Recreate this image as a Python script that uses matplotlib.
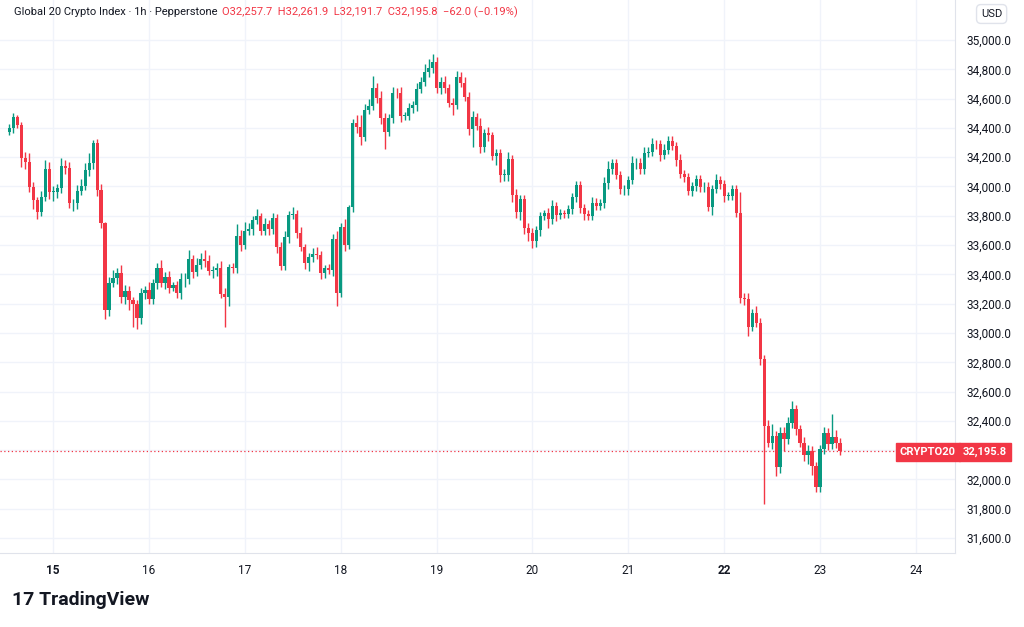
import matplotlib
matplotlib.use("Agg")
import matplotlib.pyplot as plt
import numpy as np

plt.rcParams["font.family"] = "Roboto"

# hourly closes, first candle = 14th 13:00 (hours relative to 15th 00:00 start at -11)
closes = [34397,34477,34420,34192,34169,33999,33908,33828,33930,34119,33964,33964,33987,34142,34124,33885,33885,33971,34003,34112,34158,34295,33976,33749,33157,33343,33373,33412,33248,33289,33225,33198,33100,33270,33290,33230,33339,33441,33343,33385,33305,33327,33270,
          33366,33366,33505,33418,33464,33505,33491,33425,33430,33441,33266,33243,33448,33441,33664,33600,33698,33709,33771,33798,33698,33744,33707,33782,33584,33459,33657,33805,33810,33680,33589,33480,33516,33539,33532,33407,33441,33430,33639,33275,33721,33600,33857,
          34431,34408,34340,34522,34549,34675,34602,34465,34374,34465,34640,34636,34481,34481,34533,34556,34665,34716,34784,34807,34852,34670,34716,34670,34572,34556,34750,34709,34613,34392,34472,34415,34267,34363,34351,34210,34226,34078,34078,34188,33942,33828,33912,33714,33685,33628,33703,
          33799,33821,33776,33867,33805,33817,33812,33844,33926,34010,33851,33812,33799,33890,33867,33885,34026,34117,34158,34079,33981,33981,34044,34158,34163,34117,34231,34238,34290,34288,34215,34249,34313,34277,34181,34085,34063,33972,34000,34051,33994,33999,33862,33983,34044,34015,33935,33935,33981,33821,
          33236,33230,33042,33133,33070,32819,32364,32250,32298,32082,32319,32273,32383,32478,32342,32250,32166,32196,32091,31946,32205,32319,32241,32287,32246,32196]
first_open = 34370
wick_up = [30,25,10,20,40,60,30,20,40,60,50,40,30,50,40,40,30,40,50,50,70,20,30,40,10,40,60,30,50,40,30,20,30,40,30,60,30,40,60,30,40,20,30,
           40,40,60,30,50,40,60,40,30,40,50,40,20,30,80,40,60,40,30,50,20,40,30,40,30,40,40,30,50,30,40,20,30,40,50,30,20,30,40,60,30,60,20,
           30,60,80,40,50,80,30,50,40,30,40,30,40,30,40,30,40,30,50,60,50,30,30,40,30,30,40,30,40,30,40,30,50,30,40,20,30,30,40,50,30,40,30,30,40,30,30,
           30,20,30,40,30,30,20,30,30,30,30,30,30,40,30,30,40,60,30,30,30,30,30,50,30,30,40,30,40,30,30,40,30,30,30,40,30,30,30,30,30,30,30,30,40,30,30,30,30,30,
           140,40,40,30,50,30,30,40,80,30,40,40,40,60,30,30,40,40,30,30,30,40,30,160,50,40]
wick_dn = [20,30,20,60,50,40,60,50,30,30,50,60,40,30,40,30,50,40,30,30,40,40,40,30,60,40,30,40,40,50,70,160,70,40,40,30,30,40,30,40,30,20,30,
           40,50,30,40,30,30,40,30,50,40,30,200,60,30,30,40,30,30,40,30,30,30,40,30,40,30,30,40,30,30,30,40,60,30,30,40,30,30,40,90,30,40,30,
           30,40,60,30,30,30,30,40,120,30,30,30,40,30,30,30,40,30,30,40,30,30,40,30,30,70,30,30,30,40,120,30,40,30,40,30,60,50,40,40,50,40,60,40,60,50,40,
           40,30,60,30,40,30,30,30,30,30,30,40,30,30,30,30,30,40,30,30,30,40,40,30,40,30,30,30,30,30,40,30,30,30,40,30,30,30,40,30,30,30,30,60,30,30,40,30,30,30,
           30,40,60,30,30,40,530,30,40,60,40,80,30,30,40,30,40,60,60,30,30,30,40,30,30,30]

ytick_vals = [31600,31800,32000,32200,32400,32600,32800,33000,33200,33400,33600,33800,34000,34200,34400,34600,34800,35000]
day_labels = ["15","16","17","18","19","20","21","22","23","24"]
last_price = 32195.8

GREEN = "#089981"; RED = "#f23645"
n = len(closes)
x = np.arange(n) - 11
opens = [first_open] + closes[:-1]
wu = (wick_up + [30]*n)[:n]
wd = (wick_dn + [30]*n)[:n]
highs = [max(o, c) + u for o, c, u in zip(opens, closes, wu)]
lows = [min(o, c) - d for o, c, d in zip(opens, closes, wd)]
cols = [GREEN if c >= o else RED for o, c in zip(opens, closes)]

fig = plt.figure(figsize=(10.24, 6.27), dpi=100)
ax = fig.add_axes([0, 74/627, 955/1024, 553/627])
ax.set_xlim(-13.3, 225.8)
ax.set_ylim(31498, 35273)
for v in ytick_vals:
    ax.axhline(v, color="#f0f3fa", lw=1, zorder=0)
for k in range(len(day_labels)):
    ax.axvline(24*k, color="#f0f3fa", lw=1, zorder=0)
ax.vlines(x, lows, highs, colors=cols, lw=1, zorder=2)
body_b = [min(o, c) for o, c in zip(opens, closes)]
body_h = [max(abs(c - o), 5) for o, c in zip(opens, closes)]
ax.bar(x, body_h, bottom=body_b, width=0.78, color=cols, zorder=3, lw=0)
ax.axhline(last_price, color=RED, lw=0.9, ls=(0, (1, 2)), zorder=1)

ax.yaxis.tick_right()
ax.set_yticks(ytick_vals)
# the 32,200 label is hidden behind the last-price marker, as in the reference
ax.set_yticklabels(["" if abs(v - last_price) < 50 else f"{v:,.1f}" for v in ytick_vals])
ax.set_xticks([24*k for k in range(len(day_labels))])
ax.set_xticklabels(day_labels)
ax.tick_params(axis="both", length=0, labelsize=8.5, colors="#131722", pad=8)
for lab in ax.get_xticklabels():
    if lab.get_text() in ("15", "22"):
        lab.set_fontweight("bold")
for s in ["top", "left"]:
    ax.spines[s].set_visible(False)
ax.spines["right"].set_color("#e0e3eb")
ax.spines["bottom"].set_color("#e0e3eb")

yl = 1-452/627
fig.text(928/1024, yl, "CRYPTO20", ha="center", va="center", fontsize=8, color="white", fontweight="bold",
         bbox=dict(boxstyle="square,pad=0.35", fc=RED, ec=RED))
fig.text(985/1024, yl, f"{last_price:,.1f}", ha="center", va="center", fontsize=8, color="white", fontweight="bold",
         bbox=dict(boxstyle="square,pad=0.35", fc=RED, ec=RED))
fig.text(0.958, 1-14/627, "USD", fontsize=8, color="#131722", va="center",
         bbox=dict(boxstyle="round,pad=0.4", fc="white", ec="#e0e3eb"))
fig.text(0.014, 1-12/627, "Global 20 Crypto Index · 1h · Pepperstone", fontsize=8, color="#131722", va="center")
fig.text(0.217, 1-12/627, "O32,257.7  H32,261.9  L32,191.7  C32,195.8  −62.0 (−0.19%)", fontsize=8, color=RED, va="center")
fig.text(0.012, 1-600/627, "17 TradingView", fontsize=14, fontweight="bold", color="#131722", va="center")
fig.savefig("out.png", dpi=100, facecolor="white")
